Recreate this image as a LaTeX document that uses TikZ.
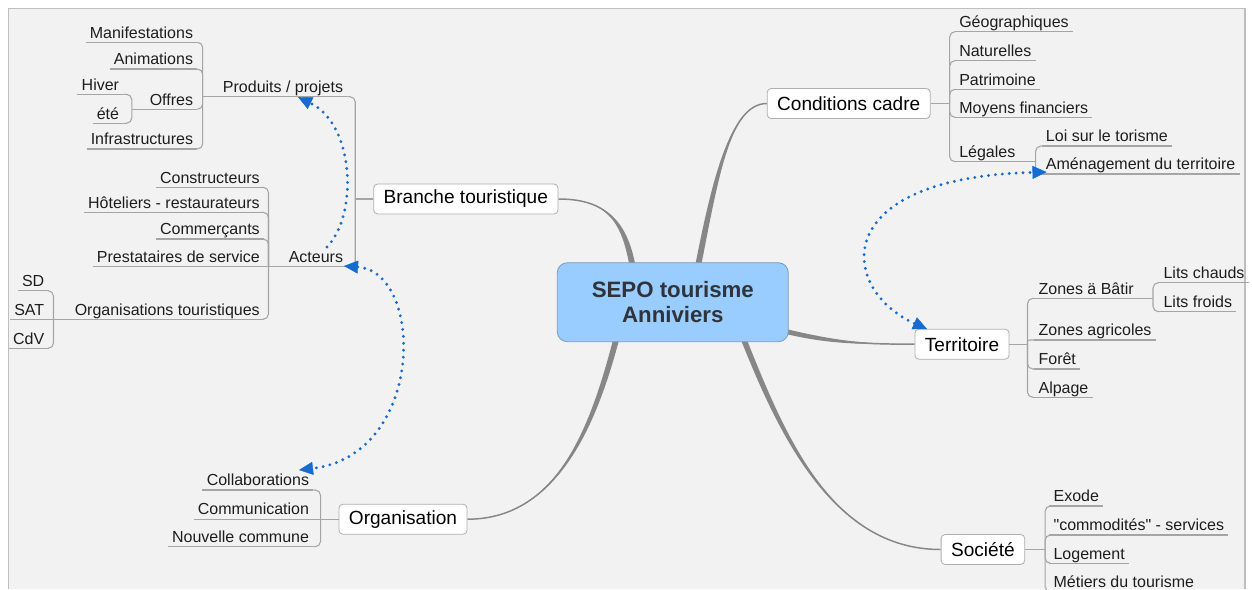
\documentclass[tikz,border=0pt]{standalone}
\usepackage{fontspec}
\setmainfont{Liberation Sans}
\newfontfamily\plainsans{Liberation Sans}
\usetikzlibrary{arrows.meta,calc}
\definecolor{framefill}{RGB}{242,242,242}
\definecolor{frameline}{RGB}{190,190,190}
\definecolor{trunk}{RGB}{135,135,135}
\definecolor{twig}{RGB}{165,165,165}
\definecolor{boxline}{RGB}{175,175,175}
\definecolor{centfill}{RGB}{153,204,255}
\definecolor{centline}{RGB}{125,155,190}
\definecolor{centtext}{RGB}{48,52,58}
\definecolor{relblue}{RGB}{22,108,206}
\definecolor{leaftext}{RGB}{30,30,30}
\pgfdeclarelayer{bg}\pgfdeclarelayer{back}\pgfsetlayers{bg,back,main}
\tikzset{
 central/.style={draw=centline, fill=centfill, rounded corners=7.5pt, line width=0.6pt,
   minimum width=173.25pt, minimum height=59.25pt, align=center, text=centtext,
   font=\fontsize{16.7pt}{18.75pt}\selectfont\bfseries, inner sep=0pt},
 topic/.style={draw=boxline, fill=white, rounded corners=3pt, line width=0.6pt,
   minimum height=22.5pt, inner xsep=7.5pt, inner ysep=0pt, font=\fontsize{14.3pt}{17pt}\selectfont},
 leaf/.style={inner xsep=3pt, inner ysep=0pt, text height=9pt, text depth=3pt, text=leaftext,
   font=\fontsize{12pt}{14pt}\selectfont},
 lleaf/.style={leaf, anchor=south east},
 rleaf/.style={leaf, anchor=south west},
 twigline/.style={draw=twig, line width=0.8pt},
 bracket/.style={twigline, rounded corners=4pt},
 rel/.style={draw=relblue, line width=2.4pt, line cap=round, dash pattern=on 0pt off 5.2pt},
 tip/.tip={Triangle[length=10.5pt,width=9.75pt,line width=0.3pt,fill=relblue]}
}
\begin{document}
\begin{tikzpicture}[x=0.75pt,y=-0.75pt]
\useasboundingbox (0,0) rectangle (1252,589);
\begin{pgfonlayer}{bg}
\fill[white] (0,0) rectangle (1252,589);
\fill[framefill] (8.5,8.5) rectangle (1245,589);
\draw[frameline, line width=0.8pt] (8.5,589) -- (8.5,8.5) -- (1245,8.5) -- (1245,589);
\end{pgfonlayer}

% central and topics
\node[central] (c) at (672.8,302.2) {SEPO tourisme\\Anniviers};
\node[topic] (br) at (465.8,199) {Branche touristique};
\node[topic] (cc) at (848.7,103.5) {Conditions cadre};
\node[topic] (te) at (962,344.2) {Territoire};
\node[topic] (so) at (982.9,549.5) {Société};
\node[topic] (org) at (403,519.2) {Organisation};

% left leaves
\node[lleaf] (man) at (197.3,42.3) {Manifestations};
\node[lleaf] (ani) at (197.3,69) {Animations};
\node[lleaf] (off) at (197.3,109.3) {Offres};
\node[lleaf] (hiv) at (123.3,94.3) {Hiver};
\node[lleaf] (ete) at (123.3,123.3) {été};
\node[lleaf] (inf) at (197.3,149) {Infrastructures};
\node[lleaf] (pp) at (347.3,96.7) {Produits / projets};
\node[lleaf] (con) at (264,187.3) {Constructeurs};
\node[lleaf] (hot) at (264,212.3) {Hôteliers - restaurateurs};
\node[lleaf] (com) at (264,239) {Commerçants};
\node[lleaf] (pre) at (264,266.5) {Prestataires de service};
\node[lleaf] (ot) at (264,319.3) {Organisations touristiques};
\node[lleaf] (ac) at (347.3,266.5) {Acteurs};
\node[lleaf] (sd) at (48.5,290.7) {SD};
\node[lleaf] (sat) at (48.5,319.3) {SAT};
\node[lleaf] (cdv) at (48.5,348.3) {CdV};
\node[lleaf] (col) at (313.3,490) {Collaborations};
\node[lleaf] (cmm) at (313.3,519.2) {Communication};
\node[lleaf] (nc) at (313.3,546.7) {Nouvelle commune};

% right leaves
\node[rleaf] (geo) at (955,31.7) {Géographiques};
\node[rleaf] (nat) at (955,60.7) {Naturelles};
\node[rleaf] (pat) at (955,89.3) {Patrimoine};
\node[rleaf] (moy) at (955,117.3) {Moyens financiers};
\node[rleaf] (leg) at (955,161.7) {Légales};
\node[rleaf] (loi) at (1041.7,146) {Loi sur le torisme};
\node[rleaf] (ame) at (1041.7,174) {Aménagement du territoire};
\node[rleaf] (zb) at (1034.3,298.3) {Zones ä Bâtir};
\node[rleaf] (lc) at (1159.3,282.7) {Lits chauds};
\node[rleaf] (lf) at (1159.3,311.7) {Lits froids};
\node[rleaf] (za) at (1034.3,340) {Zones agricoles};
\node[rleaf] (fo) at (1034.3,369) {Forêt};
\node[rleaf] (alp) at (1034.3,397.3) {Alpage};
\node[rleaf] (exo) at (1049.3,506) {Exode};
\node[rleaf] (cms) at (1049.3,535) {\plainsans "commodités" - services};
\node[rleaf] (log) at (1049.3,563.3) {Logement};
\node[rleaf] (met) at (1049.3,592) {Métiers du tourisme};

% tapered main connectors
\begin{pgfonlayer}{back}
\fill[trunk] ($(c.north)+(-43,5)$) .. controls (622,225) and (610,199) .. (br.east)
  .. controls (610,199) and (628,225) .. ($(c.north)+(-37,5)$) -- cycle;
\draw[trunk, line width=1.1pt] ($(c.north)+(-40,5)$) .. controls (625,225) and (610,199) .. (br.east);
\fill[trunk] ($(c.north)+(22,5)$) .. controls (712,180) and (730,103.5) .. (cc.west)
  .. controls (730,103.5) and (718,180) .. ($(c.north)+(28,5)$) -- cycle;
\draw[trunk, line width=1.1pt] ($(c.north)+(25,5)$) .. controls (715,180) and (730,103.5) .. (cc.west);
\fill[trunk] ($(c.east)+(-4,26.5)$) .. controls (830,339.5) and (860,344.2) .. (te.west)
  .. controls (860,344.2) and (830,344.5) .. ($(c.east)+(-4,31.5)$) -- cycle;
\draw[trunk, line width=1.1pt] ($(c.east)+(-4,29)$) .. controls (830,342) and (860,344.2) .. (te.west);
\fill[trunk] ($(c.south)+(67,-5)$) .. controls (777,430) and (830,549.5) .. (so.west)
  .. controls (830,549.5) and (783,430) .. ($(c.south)+(73,-5)$) -- cycle;
\draw[trunk, line width=1.1pt] ($(c.south)+(70,-5)$) .. controls (780,430) and (830,549.5) .. (so.west);
\fill[trunk] ($(c.south)+(-59,-5)$) .. controls (592,420) and (560,519.2) .. (org.east)
  .. controls (560,519.2) and (598,420) .. ($(c.south)+(-53,-5)$) -- cycle;
\draw[trunk, line width=1.1pt] ($(c.south)+(-56,-5)$) .. controls (595,420) and (560,519.2) .. (org.east);
\end{pgfonlayer}

% underlines
\foreach \n in {man,ani,off,hiv,ete,inf,pp,con,hot,com,pre,ot,ac,sd,sat,cdv,col,cmm,nc,
  geo,nat,pat,moy,leg,loi,ame,zb,lc,lf,za,fo,alp,exo,cms,log,met}
  \draw[twigline] (\n.south west) -- (\n.south east);

% left brackets
\draw[twigline] (br.west) -- ++(-18,0) coordinate (jbr);
\foreach \n in {pp,ac} \draw[bracket] (jbr) |- (\n.south east);
\draw[twigline] (pp.south west) -- ++(-16,0) coordinate (jpp);
\foreach \n in {man,ani,off,inf} \draw[bracket] (jpp) |- (\n.south east);
\draw[twigline] (off.south west) -- ++(-13.7,0) coordinate (joff);
\foreach \n in {hiv,ete} \draw[bracket] (joff) |- (\n.south east);
\draw[twigline] (ac.south west) -- ++(-16,0) coordinate (jac);
\foreach \n in {con,hot,com,ot} \draw[bracket] (jac) |- (\n.south east);
\draw[twigline] (jac) -- (pre.south east);
\draw[twigline] (ot.south west) -- ++(-17,0) coordinate (jot);
\foreach \n in {sd,cdv} \draw[bracket] (jot) |- (\n.south east);
\draw[twigline] (jot) -- (sat.south east);
\draw[twigline] (org.west) -- ++(-18,0) coordinate (jor);
\foreach \n in {col,nc} \draw[bracket] (jor) |- (\n.south east);
\draw[twigline] (jor) -- (cmm.south east);

% right brackets
\draw[twigline] (cc.east) -- ++(19,0) coordinate (jcc);
\foreach \n in {geo,nat,pat,moy,leg} \draw[bracket] (jcc) |- (\n.south west);
\draw[twigline] (leg.south east) -- ++(16,0) coordinate (jleg);
\foreach \n in {loi,ame} \draw[bracket] (jleg) |- (\n.south west);
\draw[twigline] (te.east) -- ++(18,0) coordinate (jte);
\foreach \n in {zb,fo,alp} \draw[bracket] (jte) |- (\n.south west);
\draw[twigline, rounded corners=1.5pt] (jte) |- (za.south west);
\draw[twigline] (zb.south east) -- ++(15,0) coordinate (jzb);
\foreach \n in {lc,lf} \draw[bracket] (jzb) |- (\n.south west);
\draw[twigline] (so.east) -- ++(20,0) coordinate (jso);
\foreach \n in {exo,cms,log,met} \draw[bracket] (jso) |- (\n.south west);

% relationships
\coordinate (r1s) at (327,247);
\coordinate (r1e) at (298,97);
\coordinate (r2s) at (344,266);
\coordinate (r2e) at (299,470);
\coordinate (r3s) at (927,329);
\coordinate (r3e) at (1046.5,172);
\draw[rel, -tip] (r1s) .. controls (358,215) and (355,125) .. (r1e);
\draw[rel, tip-tip] (r2s) .. controls (425,272) and (425,455) .. (r2e);
\draw[rel, tip-tip] (r3s) .. controls (840,290) and (825,178) .. (r3e);
\end{tikzpicture}
\end{document}
